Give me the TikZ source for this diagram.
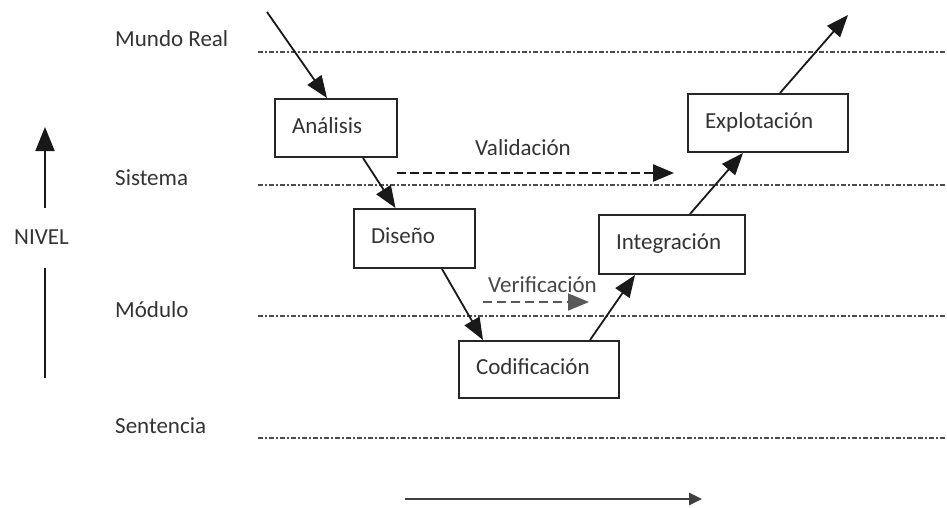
\documentclass[tikz,border=0pt]{standalone}
\usepackage{fontspec}
\setmainfont{Carlito}
\usetikzlibrary{arrows.meta}
\begin{document}
\begin{tikzpicture}[x=1pt,y=-1pt,
  font=\fontsize{23}{27}\selectfont,
  txt/.style={text=black!80, inner sep=0pt},
  levelline/.style={draw=black!70, line width=2pt,
    dash pattern=on 4.5pt off 2.5pt on 1.5pt off 2.5pt},
  stage/.style={draw=black!85, line width=2pt, fill=white, text=black!80,
    inner xsep=17pt, inner ysep=0pt, align=left,
    text height=15pt, text depth=4.6pt},
  flow/.style={draw=black!90, line width=1.8pt,
    -{Triangle[length=22pt,width=17pt]}},
  check/.style={line width=2.4pt, -{Triangle[length=21pt,width=17pt]}}
]
\useasboundingbox (0,0) rectangle (947,508);

% abstraction levels
\node[txt, anchor=base west] (lmundo) at (115,47) {Mundo Real};
\node[txt, anchor=base west] (lsis)   at (115,185) {Sistema};
\node[txt, anchor=base west] (lmod)   at (115,317) {Módulo};
\node[txt, anchor=base west] (lsen)   at (115,433) {Sentencia};

\coordinate (m0) at (258,52);  \coordinate (m1) at (947,52);
\coordinate (s0) at (258,185); \coordinate (s1) at (947,185);
\coordinate (d0) at (258,316); \coordinate (d1) at (947,316);
\coordinate (t0) at (258,438); \coordinate (t1) at (947,438);
\draw[levelline] (m0) -- (m1);
\draw[levelline] (s0) -- (s1);
\draw[levelline] (d0) -- (d1);
\draw[levelline] (t0) -- (t1);

% level axis
\node[txt, anchor=base] (nivel) at (41.5,244) {NIVEL};
\coordinate (na0) at (45,208); \coordinate (na1) at (45,127);
\coordinate (nb0) at (45,268); \coordinate (nb1) at (45,378);
\draw[black!90, line width=2pt, -{Triangle[length=24pt,width=19pt]}] (na0) -- (na1);
\draw[black!90, line width=2pt] (nb0) -- (nb1);

% time axis
\coordinate (h0) at (405,499); \coordinate (h1) at (702,499);
\draw[black!75, line width=2.8pt, -{Triangle[length=13pt,width=12pt]}] (h0) -- (h1);

% stages
\node[stage, text width=88pt,  minimum height=58pt] (ana) at (336,128)   {Análisis};
\node[stage, text width=87pt,  minimum height=59pt] (dis) at (414.5,238.5) {Diseño};
\node[stage, text width=126pt, minimum height=57pt] (cod) at (539,369.5) {Codificación};
\node[stage, text width=112pt, minimum height=59pt] (int) at (672,244.5) {Integración};
\node[stage, text width=126pt, minimum height=58pt] (exp) at (768,123)   {Explotación};

% process flow
\coordinate (in)  at (267,12);
\coordinate (out) at (848,15);
\draw[flow] (in) -- ([xshift=-9pt]ana.north);
\draw[flow] ([xshift=27pt]ana.south) -- ([xshift=-19pt]dis.north);
\draw[flow] ([xshift=27.5pt]dis.south) -- ([xshift=-56pt]cod.north);
\draw[flow] ([xshift=51pt]cod.north) -- ([xshift=-37pt]int.south);
\draw[flow] ([xshift=18pt]int.north) -- ([xshift=-25pt]exp.south);
\draw[flow] ([xshift=12pt]exp.north) -- (out);

% validation and verification
\node[txt, anchor=base west] (val) at (475,155) {Validación};
\coordinate (v0) at (397,173); \coordinate (v1) at (674,173);
\draw[check, draw=black!90, dash pattern=on 9pt off 4pt] (v0) -- (v1);

\node[txt, anchor=base west, text=black!72] (ver) at (488,292) {Verificación};
\coordinate (w0) at (483,302); \coordinate (w1) at (589,302);
\draw[check, draw=black!65, line width=1.8pt, dash pattern=on 9pt off 5pt] (w0) -- (w1);
\end{tikzpicture}
\end{document}
